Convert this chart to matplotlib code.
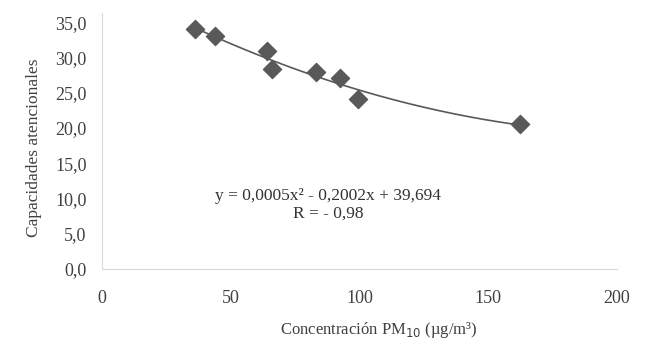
import numpy as np
import matplotlib
matplotlib.use("Agg")
import matplotlib.pyplot as plt
from matplotlib.ticker import FuncFormatter

# datos
pm10 = [36.1, 43.9, 64.2, 65.9, 83.1, 92.4, 99.5, 162.3]
capacidades = [34.0, 33.0, 30.9, 28.4, 27.9, 27.1, 24.1, 20.5]
x_ticks = [0, 50, 100, 150, 200]
y_ticks = [0, 5, 10, 15, 20, 25, 30, 35]
ecuacion = 'y = 0,0005x² - 0,2002x + 39,694'
texto_r = 'R = - 0,98'

plt.rcParams['font.family'] = ['Liberation Serif', 'DejaVu Serif']
gris = '#595959'

fig = plt.figure(figsize=(6.5, 3.51), dpi=100)
ax = fig.add_axes([102 / 650, 1 - 269 / 351, 515 / 650, 256 / 351])

# linea de tendencia polinomica (grado 2)
coef = np.polyfit(pm10, capacidades, 2)
xs = np.linspace(min(pm10), max(pm10), 200)
ax.plot(xs, np.polyval(coef, xs), color=gris, lw=1.2, zorder=2)
ax.scatter(pm10, capacidades, marker='D', s=85, color=gris, zorder=3)

ax.set_xlim(0, 200)
ax.set_ylim(0, 36.3)
ax.set_xticks(x_ticks)
ax.set_yticks(y_ticks)
ax.yaxis.set_major_formatter(FuncFormatter(lambda v, p: f"{v:.1f}".replace('.', ',')))

for s in ['top', 'right']:
    ax.spines[s].set_visible(False)
for s in ['left', 'bottom']:
    ax.spines[s].set_color('#d9d9d9')
ax.tick_params(length=0, labelsize=13, colors='#404040')
ax.tick_params(axis='x', pad=15)
ax.tick_params(axis='y', pad=11)

ax.set_xlabel('Concentración PM$_{10}$ (µg/m³)', fontsize=12, color='#404040')
ax.xaxis.set_label_coords(0.538, -0.2)
ax.set_ylabel('Capacidades atencionales', fontsize=12.5, color='#404040')
ax.yaxis.set_label_coords(-0.117, 0.473)

ax.text(87.8, 10.3, ecuacion, ha='center', va='center', fontsize=12.5, color='#333333')
ax.text(87.8, 7.9, texto_r, ha='center', va='center', fontsize=12.5, color='#333333')

fig.savefig('out.png', dpi=100)
